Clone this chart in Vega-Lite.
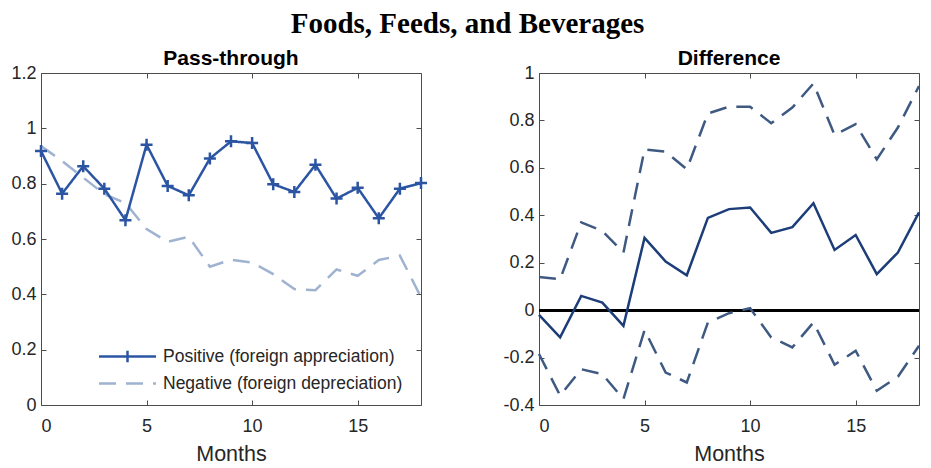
{
  "$schema": "https://vega.github.io/schema/vega-lite/v6.json",
  "background": "white",
  "padding": {"left": 10, "top": 9, "right": 5, "bottom": 5},
  "title": {"text": "Foods, Feeds, and Beverages", "font": "Liberation Serif", "fontSize": 29, "fontWeight": "bold", "color": "black", "anchor": "middle", "offset": 9},
  "datasets": {
    "pt": [
      {"month": 0, "series": "Positive (foreign appreciation)", "value": 0.918},
      {"month": 1, "series": "Positive (foreign appreciation)", "value": 0.764},
      {"month": 2, "series": "Positive (foreign appreciation)", "value": 0.863},
      {"month": 3, "series": "Positive (foreign appreciation)", "value": 0.782},
      {"month": 4, "series": "Positive (foreign appreciation)", "value": 0.668},
      {"month": 5, "series": "Positive (foreign appreciation)", "value": 0.941},
      {"month": 6, "series": "Positive (foreign appreciation)", "value": 0.792},
      {"month": 7, "series": "Positive (foreign appreciation)", "value": 0.758},
      {"month": 8, "series": "Positive (foreign appreciation)", "value": 0.891},
      {"month": 9, "series": "Positive (foreign appreciation)", "value": 0.953},
      {"month": 10, "series": "Positive (foreign appreciation)", "value": 0.947},
      {"month": 11, "series": "Positive (foreign appreciation)", "value": 0.798},
      {"month": 12, "series": "Positive (foreign appreciation)", "value": 0.770},
      {"month": 13, "series": "Positive (foreign appreciation)", "value": 0.868},
      {"month": 14, "series": "Positive (foreign appreciation)", "value": 0.746},
      {"month": 15, "series": "Positive (foreign appreciation)", "value": 0.785},
      {"month": 16, "series": "Positive (foreign appreciation)", "value": 0.675},
      {"month": 17, "series": "Positive (foreign appreciation)", "value": 0.782},
      {"month": 18, "series": "Positive (foreign appreciation)", "value": 0.802},
      {"month": 0, "series": "Negative (foreign depreciation)", "value": 0.936},
      {"month": 1, "series": "Negative (foreign depreciation)", "value": 0.882},
      {"month": 2, "series": "Negative (foreign depreciation)", "value": 0.822},
      {"month": 3, "series": "Negative (foreign depreciation)", "value": 0.762},
      {"month": 4, "series": "Negative (foreign depreciation)", "value": 0.730},
      {"month": 5, "series": "Negative (foreign depreciation)", "value": 0.636},
      {"month": 6, "series": "Negative (foreign depreciation)", "value": 0.590},
      {"month": 7, "series": "Negative (foreign depreciation)", "value": 0.608},
      {"month": 8, "series": "Negative (foreign depreciation)", "value": 0.500},
      {"month": 9, "series": "Negative (foreign depreciation)", "value": 0.525},
      {"month": 10, "series": "Negative (foreign depreciation)", "value": 0.515},
      {"month": 11, "series": "Negative (foreign depreciation)", "value": 0.473},
      {"month": 12, "series": "Negative (foreign depreciation)", "value": 0.419},
      {"month": 13, "series": "Negative (foreign depreciation)", "value": 0.415},
      {"month": 14, "series": "Negative (foreign depreciation)", "value": 0.490},
      {"month": 15, "series": "Negative (foreign depreciation)", "value": 0.467},
      {"month": 16, "series": "Negative (foreign depreciation)", "value": 0.524},
      {"month": 17, "series": "Negative (foreign depreciation)", "value": 0.540},
      {"month": 18, "series": "Negative (foreign depreciation)", "value": 0.390}
    ],
    "diff": [
      {"month": 0, "series": "mean", "value": -0.020},
      {"month": 1, "series": "mean", "value": -0.115},
      {"month": 2, "series": "mean", "value": 0.060},
      {"month": 3, "series": "mean", "value": 0.032},
      {"month": 4, "series": "mean", "value": -0.066},
      {"month": 5, "series": "mean", "value": 0.305},
      {"month": 6, "series": "mean", "value": 0.205},
      {"month": 7, "series": "mean", "value": 0.147},
      {"month": 8, "series": "mean", "value": 0.389},
      {"month": 9, "series": "mean", "value": 0.426},
      {"month": 10, "series": "mean", "value": 0.433},
      {"month": 11, "series": "mean", "value": 0.326},
      {"month": 12, "series": "mean", "value": 0.350},
      {"month": 13, "series": "mean", "value": 0.451},
      {"month": 14, "series": "mean", "value": 0.254},
      {"month": 15, "series": "mean", "value": 0.317},
      {"month": 16, "series": "mean", "value": 0.152},
      {"month": 17, "series": "mean", "value": 0.243},
      {"month": 18, "series": "mean", "value": 0.412},
      {"month": 0, "series": "upper", "value": 0.140},
      {"month": 1, "series": "upper", "value": 0.130},
      {"month": 2, "series": "upper", "value": 0.370},
      {"month": 3, "series": "upper", "value": 0.334},
      {"month": 4, "series": "upper", "value": 0.243},
      {"month": 5, "series": "upper", "value": 0.678},
      {"month": 6, "series": "upper", "value": 0.668},
      {"month": 7, "series": "upper", "value": 0.594},
      {"month": 8, "series": "upper", "value": 0.829},
      {"month": 9, "series": "upper", "value": 0.858},
      {"month": 10, "series": "upper", "value": 0.858},
      {"month": 11, "series": "upper", "value": 0.788},
      {"month": 12, "series": "upper", "value": 0.854},
      {"month": 13, "series": "upper", "value": 0.956},
      {"month": 14, "series": "upper", "value": 0.739},
      {"month": 15, "series": "upper", "value": 0.784},
      {"month": 16, "series": "upper", "value": 0.636},
      {"month": 17, "series": "upper", "value": 0.770},
      {"month": 18, "series": "upper", "value": 0.945},
      {"month": 0, "series": "lower", "value": -0.185},
      {"month": 1, "series": "lower", "value": -0.360},
      {"month": 2, "series": "lower", "value": -0.249},
      {"month": 3, "series": "lower", "value": -0.270},
      {"month": 4, "series": "lower", "value": -0.375},
      {"month": 5, "series": "lower", "value": -0.084},
      {"month": 6, "series": "lower", "value": -0.263},
      {"month": 7, "series": "lower", "value": -0.305},
      {"month": 8, "series": "lower", "value": -0.052},
      {"month": 9, "series": "lower", "value": -0.013},
      {"month": 10, "series": "lower", "value": 0.008},
      {"month": 11, "series": "lower", "value": -0.115},
      {"month": 12, "series": "lower", "value": -0.157},
      {"month": 13, "series": "lower", "value": -0.052},
      {"month": 14, "series": "lower", "value": -0.230},
      {"month": 15, "series": "lower", "value": -0.171},
      {"month": 16, "series": "lower", "value": -0.340},
      {"month": 17, "series": "lower", "value": -0.281},
      {"month": 18, "series": "lower", "value": -0.150}
    ]
  },
  "hconcat": [
    {
      "width": 380,
      "height": 332,
      "title": {"text": "Pass-through"},
      "data": {"name": "pt"},
      "layer": [
        {
          "transform": [{"filter": "datum.series === 'Negative (foreign depreciation)'"}],
          "mark": {"type": "line", "strokeWidth": 2.5},
          "encoding": {
            "x": {"field": "month", "type": "quantitative", "scale": {"domain": [0, 18], "nice": false}, "axis": {"orient": "bottom", "title": "Months", "values": [0, 5, 10, 15], "labelPadding": 17, "titlePadding": 8}},
            "y": {"field": "value", "type": "quantitative", "scale": {"domain": [0, 1.2], "nice": false}, "axis": {"orient": "left", "title": null, "values": [0, 0.2, 0.4, 0.6, 0.8, 1, 1.2], "labelExpr": "datum.value + ''", "labelPadding": 10}},
            "color": {"field": "series", "type": "nominal", "scale": {"domain": ["Positive (foreign appreciation)", "Negative (foreign depreciation)"], "range": ["#2b55a3", "#9fb3d1"]}, "legend": {"title": null, "encode": {"symbols": {"update": {"shape": {"signal": "datum.value === 'Positive (foreign appreciation)' ? 'M-2,0L2,0M0,-0.4L0,0.4' : 'M-2,0L2,0'"}, "strokeDash": {"signal": "datum.value === 'Positive (foreign appreciation)' ? [1, 0] : [18, 13]"}}}}}},
            "strokeDash": {"field": "series", "type": "nominal", "scale": {"domain": ["Positive (foreign appreciation)", "Negative (foreign depreciation)"], "range": [[1, 0], [17, 10]]}, "legend": {"title": null, "encode": {"symbols": {"update": {"shape": {"signal": "datum.value === 'Positive (foreign appreciation)' ? 'M-2,0L2,0M0,-0.4L0,0.4' : 'M-2,0L2,0'"}, "strokeDash": {"signal": "datum.value === 'Positive (foreign appreciation)' ? [1, 0] : [18, 13]"}}}}}}
          }
        },
        {
          "transform": [{"filter": "datum.series === 'Positive (foreign appreciation)'"}],
          "mark": {"type": "line", "strokeWidth": 2.5},
          "encoding": {
            "x": {"field": "month", "type": "quantitative", "axis": null},
            "y": {"field": "value", "type": "quantitative", "axis": null},
            "color": {"field": "series", "type": "nominal"},
            "strokeDash": {"field": "series", "type": "nominal"}
          }
        },
        {
          "transform": [{"filter": "datum.series === 'Positive (foreign appreciation)'"}],
          "mark": {"type": "point", "shape": "M-1,0L1,0M0,-1L0,1", "size": 144, "filled": false, "strokeWidth": 2.5, "color": "#2b55a3", "opacity": 1},
          "encoding": {
            "x": {"field": "month", "type": "quantitative", "axis": {"orient": "top", "title": null, "labels": false, "labelPadding": 0, "values": [0, 5, 10, 15]}},
            "y": {"field": "value", "type": "quantitative", "axis": {"orient": "right", "title": null, "labels": false, "labelPadding": 0, "values": [0, 0.2, 0.4, 0.6, 0.8, 1, 1.2]}}
          }
        }
      ],
      "resolve": {"axis": {"x": "independent", "y": "independent"}}
    },
    {
      "width": 380,
      "height": 332,
      "title": {"text": "Difference"},
      "data": {"name": "diff"},
      "layer": [
        {
          "mark": {"type": "rule", "color": "black", "strokeWidth": 2.5},
          "encoding": {"y": {"datum": 0, "type": "quantitative", "axis": null}}
        },
        {
          "transform": [{"filter": "datum.series !== 'mean'"}],
          "mark": {"type": "line", "strokeWidth": 2.5, "color": "#3f5a82", "strokeDash": [17, 10]},
          "encoding": {
            "x": {"field": "month", "type": "quantitative", "scale": {"domain": [0, 18], "nice": false}, "axis": {"orient": "bottom", "title": "Months", "values": [0, 5, 10, 15], "labelPadding": 17, "titlePadding": 8}},
            "y": {"field": "value", "type": "quantitative", "scale": {"domain": [-0.4, 1], "nice": false}, "axis": {"orient": "left", "title": null, "values": [-0.4, -0.2, 0, 0.2, 0.4, 0.6, 0.8, 1], "labelExpr": "datum.value + ''", "labelPadding": 10}},
            "detail": {"field": "series", "type": "nominal"}
          }
        },
        {
          "transform": [{"filter": "datum.series === 'mean'"}],
          "mark": {"type": "line", "strokeWidth": 2.5, "color": "#1c3d78"},
          "encoding": {
            "x": {"field": "month", "type": "quantitative", "axis": {"orient": "top", "title": null, "labels": false, "labelPadding": 0, "values": [0, 5, 10, 15]}},
            "y": {"field": "value", "type": "quantitative", "axis": {"orient": "right", "title": null, "labels": false, "labelPadding": 0, "values": [-0.4, -0.2, 0, 0.2, 0.4, 0.6, 0.8, 1]}}
          }
        }
      ],
      "resolve": {"axis": {"x": "independent", "y": "independent"}}
    }
  ],
  "spacing": 69,
  "config": {
    "view": {"stroke": "#4d4d4d", "strokeWidth": 1},
    "title": {"font": "Liberation Sans", "fontSize": 21, "fontWeight": "bold", "color": "black", "offset": -5},
    "axis": {
      "domain": false,
      "grid": false,
      "ticks": true,
      "tickSize": -5,
      "tickColor": "#4d4d4d",
      "tickWidth": 1,
      "labelFont": "Liberation Sans",
      "labelFontSize": 18,
      "labelColor": "#262626",
      "titleFont": "Liberation Sans",
      "titleFontSize": 21.5,
      "titleFontWeight": "normal",
      "titleColor": "#262626"
    },
    "legend": {
      "orient": "none",
      "legendX": 71,
      "legendY": 268,
      "symbolType": "stroke",
      "symbolSize": 812,
      "symbolStrokeWidth": 2.5,
      "labelFont": "Liberation Sans",
      "labelFontSize": 17.5,
      "labelColor": "#262626",
      "labelOffset": 20,
      "labelLimit": 400,
      "rowPadding": -8
    }
  }
}
